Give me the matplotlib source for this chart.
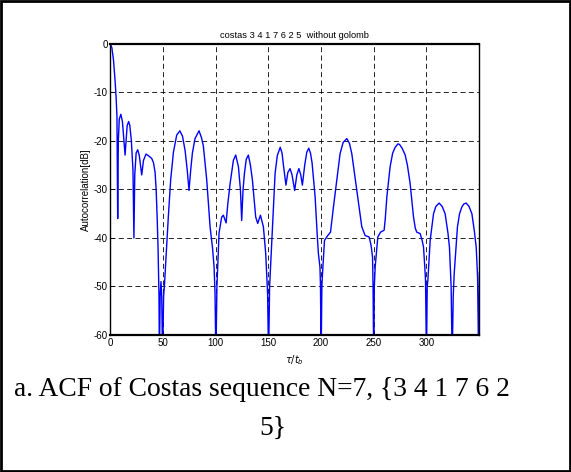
import matplotlib
matplotlib.use("Agg")
import matplotlib.pyplot as plt
from matplotlib.patches import Rectangle

# data (tau / t_b , autocorrelation in dB)
tau = [0, 1.5, 3, 4.5, 5.5, 6.3, 7.0, 7.6, 8.5, 10, 11.5, 13, 14, 15, 16, 17.4, 18.5, 20, 21.5, 22.4,
       23.2, 24.5, 26, 27.5, 29.8, 31.5, 33.9, 36, 39.3, 41, 42.5, 43.5, 44.5, 45.3, 46.2, 46.6, 47.3,
       48.1, 48.8, 49.6, 50.6, 51.3, 52.9, 55.1, 57.3, 59.9, 63, 66, 68.5, 71, 73, 74.7, 76.3, 77.9,
       80.4, 84.2, 86.5, 88.3, 91.5, 94.7, 97, 98.5, 99.4, 100.2, 101.2, 103.2, 105.7, 107.3, 109.9,
       111.5, 113.7, 116.8, 119, 121.6, 123.5, 124.7, 126, 127.3, 129, 131, 133, 134.9, 138, 139.9,
       142.5, 145.3, 147.5, 149.3, 150.2, 151.2, 153.9, 156.4, 158.5, 161.3, 163, 164.5, 166.7, 168.5,
       170.6, 172.5, 175, 177, 179, 180.8, 182.3, 184.5, 186.5, 188.4, 190, 191.5, 194.4, 196.3, 197.5,
       199, 199.5, 200.1, 200.8, 201.4, 203.3, 206.4, 209, 211.8, 215, 218.1, 221, 224.5, 227, 229.2,
       234, 238.7, 241.9, 245.7, 247.5, 248.9, 249.4, 250, 250.6, 251.4, 253.9, 256.5, 259.9, 261,
       262.5, 265.6, 268, 270.4, 273, 274.5, 277, 279.9, 282, 284.6, 287.8, 289.5, 290.9, 294.1, 296,
       297.3, 298.5, 299.2, 300.1, 300.8, 301.4, 303.6, 306.8, 309, 312.1, 315, 317.8, 320.5, 321.9,
       323.5, 324.5, 325.5, 326.4, 329.5, 331.5, 333.7, 335.5, 337.8, 340.5, 343.2, 345.5, 347.3,
       348.6, 349.6, 350.4]
acf_db = [0, -0.8, -3.3, -7.5, -11, -15, -36, -20, -15.5, -14.5, -16, -20, -22.9, -20, -16.8, -16, -16.8,
          -20, -26, -40, -27, -22.5, -21.8, -23, -27, -24, -22.7, -23, -23.6, -24.5, -26.5, -30, -36,
          -42, -52, -65, -52, -49, -52, -65, -52, -50, -44, -35.5, -28, -22.3, -18.8, -17.9, -19, -22,
          -26, -30.2, -26, -22.5, -19.5, -17.9, -19.3, -21, -28, -37.7, -42, -46, -51.5, -65, -50, -39,
          -35.7, -35.3, -36.9, -33, -28.8, -24, -22.9, -25.3, -30, -36.4, -30, -26.7, -23.8, -22.9, -25,
          -28.1, -35.7, -37, -35.3, -37.7, -43.2, -51.5, -65, -50, -37.7, -26.7, -23, -21.3, -22.5,
          -25.3, -29.1, -26.5, -25.7, -27, -30.2, -27, -25.7, -27, -29.1, -25, -22.3, -21.5, -22.5,
          -24.5, -31.5, -39, -43.2, -46, -50, -65, -50, -47.4, -40.5, -39.5, -38.8, -33.6, -28.1, -22.6,
          -20.3, -19.5, -20.5, -22.6, -30.2, -37.7, -39.5, -39.8, -41.5, -43.9, -50, -65, -50, -46,
          -39.8, -38.8, -38.4, -36, -31.5, -25.3, -22.5, -21.3, -20.6, -20.7, -21.5, -22.9, -25, -28.8,
          -35.7, -38, -38.8, -39.1, -40.5, -41.9, -46, -48.8, -65, -50, -48.8, -40.5, -35, -33.5, -32.8,
          -33.5, -35, -39, -41.9, -50, -65, -52, -47.4, -37.7, -35, -33.6, -33, -32.8, -33.5, -35,
          -38.5, -41.9, -48, -65, -47]

x_ticks = [0, 50, 100, 150, 200, 250, 300]
y_ticks = [-60, -50, -40, -30, -20, -10, 0]

plt.rcParams['font.family'] = ['Liberation Sans', 'DejaVu Sans']
plt.rcParams['axes.unicode_minus'] = False

fig = plt.figure(figsize=(5.71, 4.72), dpi=100)
ax = fig.add_axes([0.1932, 0.2903, 0.6465, 0.6165])

ax.plot(tau, acf_db, color='blue', linewidth=1.0)
ax.set_xlim(0, 350.4)
ax.set_ylim(-60, 0)
ax.set_xticks(x_ticks)
ax.set_yticks(y_ticks)
ax.tick_params(direction='in', labelsize=7, length=3, width=0.6, pad=2)
ax.grid(True, color='k', linestyle=(0, (6, 4)), linewidth=0.6)

for s in ax.spines.values():
    s.set_linewidth(1.0)
ax.spines['top'].set_linewidth(1.6)
ax.spines['bottom'].set_linewidth(1.6)

ax.set_title('costas 3 4 1 7 6 2 5  without golomb', fontsize=6.7, pad=4)
ax.set_ylabel('Autocorrelation[dB]', fontsize=7, labelpad=2)
ax.set_xlabel(r'$\tau/t_b$', fontsize=7, labelpad=4)

# caption under the plot
fig.text(262 / 571, 1 - 390 / 472, 'a. ACF of Costas sequence N=7, {3 4 1 7 6 2',
         family='Liberation Serif', fontsize=19.8, ha='center', va='center')
fig.text(273 / 571, 1 - 428 / 472, '5}',
         family='Liberation Serif', fontsize=19.8, ha='center', va='center')

# frame round the whole picture
fig.patches.append(Rectangle((0.002, 0.002), 0.996, 0.996, transform=fig.transFigure,
                             fill=False, edgecolor='k', linewidth=2))

fig.savefig('out.png', dpi=100)
